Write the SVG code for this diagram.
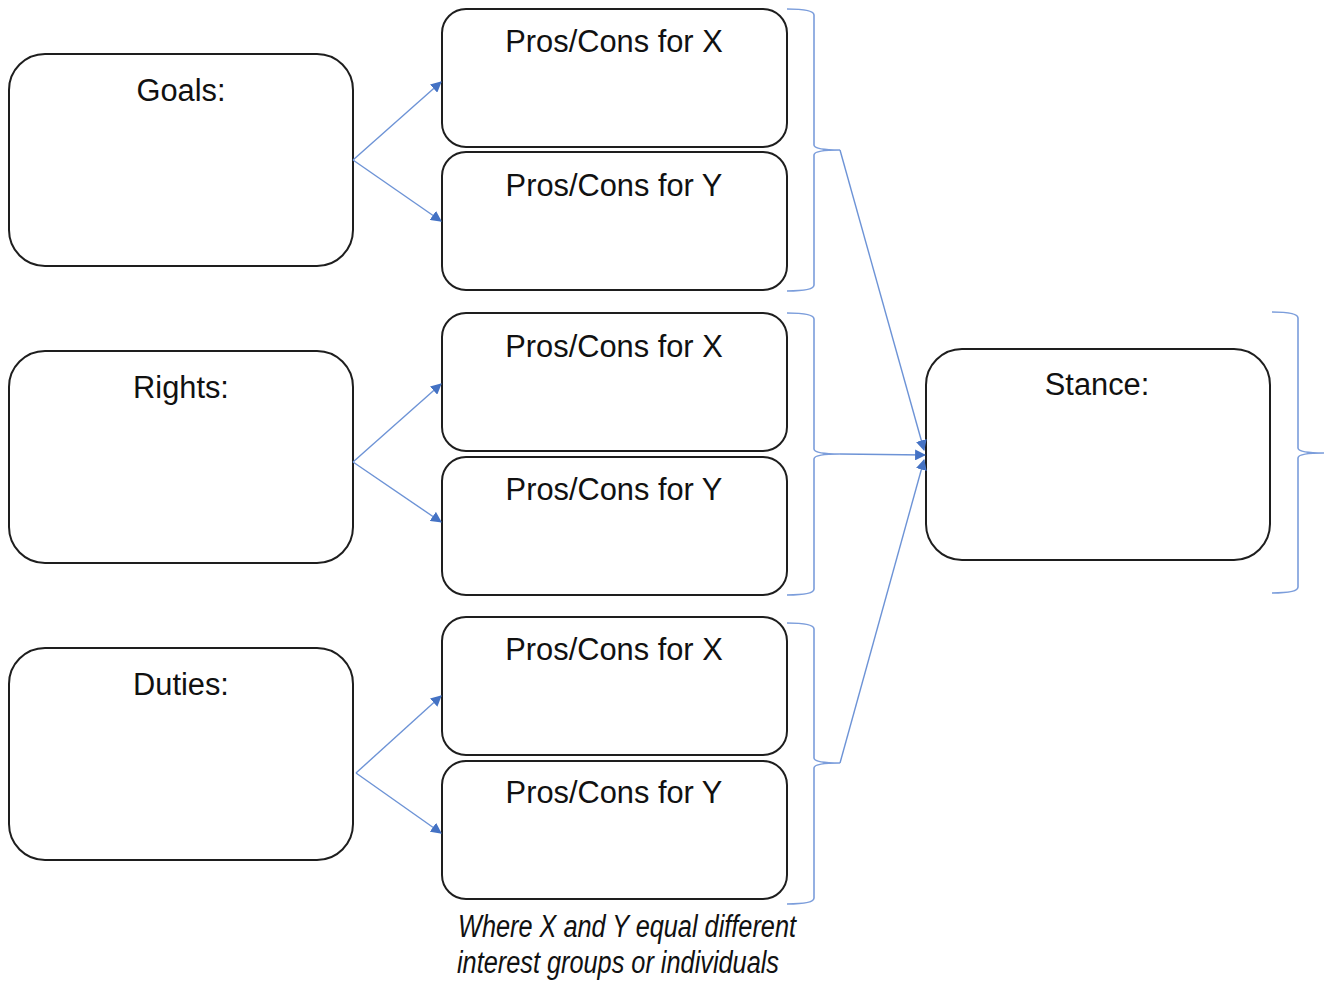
<svg xmlns="http://www.w3.org/2000/svg" width="1328" height="983" viewBox="0 0 1328 983">
<defs>
<style>
.box{fill:#fff;stroke:#1e1e1e;stroke-width:2}
.lbl{font-family:"Liberation Sans",Arial,sans-serif;font-size:30.8px;fill:#111;text-anchor:middle}
.ln{fill:none;stroke:#6d93d6;stroke-width:1.4}
.br{fill:none;stroke:#7b9ddb;stroke-width:1.6}
.note{font-family:"Liberation Sans",Arial,sans-serif;font-size:31px;font-style:italic;fill:#111}
</style>
<marker id="ah" viewBox="0 0 10 10" refX="9" refY="5" markerWidth="11" markerHeight="11" markerUnits="userSpaceOnUse" orient="auto">
<path d="M0,0 L10,5 L0,10 z" fill="#4472c4"/>
</marker>
</defs>
<g id="goals"><rect class="box" x="9" y="54" width="344" height="212" rx="36"/><text class="lbl" x="181" y="101">Goals:</text></g>
<g id="rights"><rect class="box" x="9" y="351" width="344" height="212" rx="36"/><text class="lbl" x="181" y="398">Rights:</text></g>
<g id="duties"><rect class="box" x="9" y="648" width="344" height="212" rx="36"/><text class="lbl" x="181" y="695">Duties:</text></g>
<g id="g-x"><rect class="box" x="442" y="9" width="345" height="138" rx="24"/><text class="lbl" x="614" y="52">Pros/Cons for X</text></g>
<g id="g-y"><rect class="box" x="442" y="152" width="345" height="138" rx="24"/><text class="lbl" x="614" y="196">Pros/Cons for Y</text></g>
<g id="r-x"><rect class="box" x="442" y="313" width="345" height="138" rx="24"/><text class="lbl" x="614" y="357">Pros/Cons for X</text></g>
<g id="r-y"><rect class="box" x="442" y="457" width="345" height="138" rx="24"/><text class="lbl" x="614" y="500">Pros/Cons for Y</text></g>
<g id="d-x"><rect class="box" x="442" y="617" width="345" height="138" rx="24"/><text class="lbl" x="614" y="660">Pros/Cons for X</text></g>
<g id="d-y"><rect class="box" x="442" y="761" width="345" height="138" rx="24"/><text class="lbl" x="614" y="803">Pros/Cons for Y</text></g>
<g id="stance"><rect class="box" x="926" y="349" width="344" height="211" rx="36"/><text class="lbl" x="1097" y="395">Stance:</text></g>
<g id="connectors">
<path class="ln" d="M353,160 L441,82" marker-end="url(#ah)"/>
<path class="ln" d="M353,160 L441,221" marker-end="url(#ah)"/>
<path class="ln" d="M353,462 L441,384" marker-end="url(#ah)"/>
<path class="ln" d="M353,462 L441,522" marker-end="url(#ah)"/>
<path class="ln" d="M356,773 L441,696" marker-end="url(#ah)"/>
<path class="ln" d="M356,773 L441,833" marker-end="url(#ah)"/>
<path class="br" d="M787,9 Q814,9 814,15 V145 Q814,150 840,150 Q814,150 814,155 V285 Q814,291 787,291"/>
<path class="br" d="M787,313 Q814,313 814,319 V449 Q814,454 840,454 Q814,454 814,459 V589 Q814,595 787,595"/>
<path class="br" d="M787,623 Q814,623 814,629 V758 Q814,763 840,763 Q814,763 814,768 V898 Q814,904 787,904"/>
<path class="br" d="M1272,312 Q1298,312 1298,318 V448 Q1298,453 1324,453 Q1298,453 1298,458 V587 Q1298,593 1272,593"/>
<path class="ln" d="M840,150 L924,450" marker-end="url(#ah)"/>
<path class="ln" d="M840,454 L925,455" marker-end="url(#ah)"/>
<path class="ln" d="M840,763 L924,460" marker-end="url(#ah)"/>
</g>
<text class="note" x="458" y="937" textLength="338" lengthAdjust="spacingAndGlyphs">Where X and Y equal different</text>
<text class="note" x="457" y="973" textLength="322" lengthAdjust="spacingAndGlyphs">interest groups or individuals</text>
</svg>
